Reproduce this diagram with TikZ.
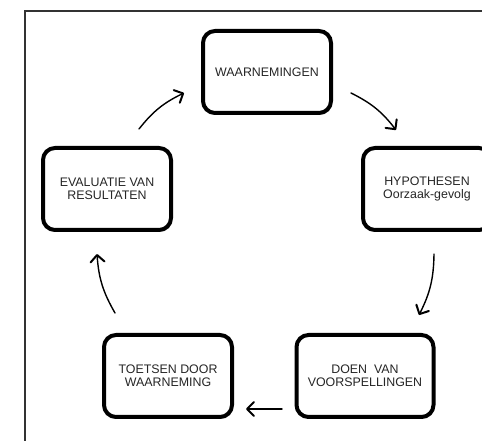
\documentclass[tikz,border=0pt]{standalone}
\usepackage{fontspec}
\setmainfont{Liberation Sans}
\usetikzlibrary{calc,shadows,arrows.meta}

\tikzset{
  stap/.style={draw=black,line width=4pt,rounded corners=12pt,fill=white,
    minimum width=128pt,minimum height=82pt,align=center,text=black!85,
    font=\fontsize{12.4}{12.8}\selectfont,
    drop shadow={shadow xshift=1pt,shadow yshift=-2pt,opacity=.35,fill=black!60}},
  pijl/.style={line width=1.4pt,line cap=round,
    -{Straight Barb[length=7pt,width=14pt,line width=2pt,round]},bend left=13}
}

\begin{document}
\begin{tikzpicture}[x=1pt,y=1pt]
    \useasboundingbox (0,0) rectangle (482,441);
    \draw[line width=1.2pt,black!80] (25,0) -- (25,430) -- (482,430);

    \node[stap] (obs) at (267,369) {WAARNEMINGEN};
    \node[stap] (hyp) at (427,252) {HYPOTHESEN\\Oorzaak-gevolg};
    \node[stap,minimum width=137pt] (pred) at (365,65) {DOEN~~VAN\\VOORSPELLINGEN};
    \node[stap] (test) at (168,65) {TOETSEN DOOR\\WAARNEMING};
    \node[stap] (eval) at (107,252) {EVALUATIE VAN\\RESULTATEN};

    \draw[pijl] ($(obs.east)+(18,-21)$) to ($(hyp.north)+(-31,16)$);
    \draw[pijl] ($(hyp.south)+(7,-22)$) to ($(pred.north east)+(-16.5,18)$);
    \draw[pijl,bend left=0] ($(pred.south west)+(-12.5,10)$) to ($(test.south east)+(12,10)$);
    \draw[pijl] ($(test.north west)+(13,20)$) to ($(eval.south)+(-10,-22)$);
    \draw[pijl] ($(eval.north)+(32,17)$) to ($(obs.west)+(-17,-21)$);
\end{tikzpicture}
\end{document}
